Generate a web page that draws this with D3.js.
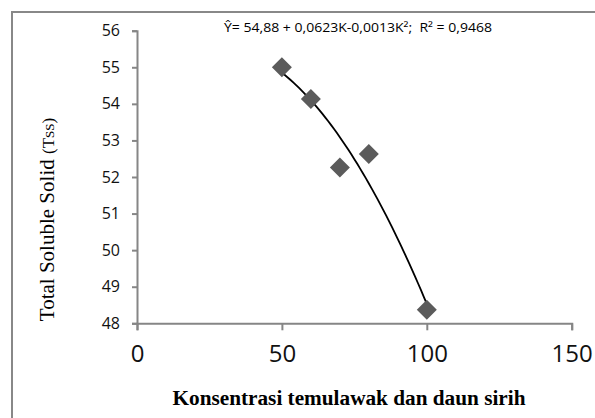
<!DOCTYPE html>
<html><head><meta charset="utf-8">
<script src="https://cdn.jsdelivr.net/npm/d3@7"></script>
<style>body{margin:0;background:#fff}svg{display:block}</style>
</head><body>
<script>
const konsentrasi = [50, 60, 70, 80, 100];
const tss = [55.0, 54.13, 52.26, 52.63, 48.37];
const xTicks = [0, 50, 100, 150];
const yTicks = [48, 49, 50, 51, 52, 53, 54, 55, 56];
const equationText = "Ŷ= 54,88 + 0,0623K-0,0013K²;  R² = 0,9468";
const xTitle = "Konsentrasi temulawak dan daun sirih";

const W = 595, H = 418;
const svg = d3.select("body").append("svg").attr("width", W).attr("height", H);

// outer frame
svg.append("rect").attr("x", 12).attr("y", 12).attr("width", 620).attr("height", 440)
  .attr("fill", "none").attr("stroke", "#888").attr("stroke-width", 2);

const x = d3.scaleLinear().domain([0, 150]).range([137, 571.7]);
const y = d3.scaleLinear().domain([48, 56]).range([323.3, 30.7]);

const axisColor = "#868686";
// y axis
const gy = svg.append("g").attr("transform", `translate(${x(0)},0)`)
  .call(d3.axisLeft(y).tickValues(yTicks).tickSize(5).tickPadding(12).tickFormat(d3.format("d")));
gy.select(".domain").attr("stroke", axisColor).attr("stroke-width", 2);
gy.selectAll(".tick line").attr("stroke", axisColor).attr("stroke-width", 2);
gy.selectAll(".tick text").attr("font-family", "'Open Sans', sans-serif").attr("font-size", 16).attr("fill", "#111");

// x axis
const gx = svg.append("g").attr("transform", `translate(0,${y(48)})`)
  .call(d3.axisBottom(x).tickValues(xTicks).tickSize(7).tickPadding(15).tickFormat(d3.format("d")));
gx.select(".domain").attr("stroke", axisColor).attr("stroke-width", 2);
gx.selectAll(".tick line").attr("stroke", axisColor).attr("stroke-width", 2);
gx.selectAll(".tick text").attr("font-family", "'Open Sans', sans-serif").attr("font-size", 24).attr("fill", "#111");

// quadratic least squares trendline
function polyfit2(xs, ys) {
  const n = xs.length;
  let s = [0,0,0,0,0], t = [0,0,0];
  for (let i = 0; i < n; i++) {
    for (let k = 0; k < 5; k++) s[k] += Math.pow(xs[i], k);
    for (let k = 0; k < 3; k++) t[k] += ys[i] * Math.pow(xs[i], k);
  }
  const A = [[s[0], s[1], s[2], t[0]], [s[1], s[2], s[3], t[1]], [s[2], s[3], s[4], t[2]]];
  for (let i = 0; i < 3; i++) {
    for (let j = i + 1; j < 3; j++) {
      const f = A[j][i] / A[i][i];
      for (let k = i; k < 4; k++) A[j][k] -= f * A[i][k];
    }
  }
  const c = [0,0,0];
  for (let i = 2; i >= 0; i--) {
    let v = A[i][3];
    for (let k = i + 1; k < 3; k++) v -= A[i][k] * c[k];
    c[i] = v / A[i][i];
  }
  return c;
}
const coef = polyfit2(konsentrasi, tss);
const xs = d3.range(50, 100.01, 1);
const line = d3.line().x(d => x(d)).y(d => y(coef[0] + coef[1] * d + coef[2] * d * d));
svg.append("path").datum(xs).attr("d", line).attr("fill", "none").attr("stroke", "#000").attr("stroke-width", 1.8);

// diamonds
svg.selectAll("path.pt").data(konsentrasi).enter().append("path").attr("class", "pt")
  .attr("d", (d, i) => {
    const cx = x(d), cy = y(tss[i]), r = 10;
    return `M${cx},${cy - r}L${cx + r},${cy}L${cx},${cy + r}L${cx - r},${cy}Z`;
  })
  .attr("fill", "#5b5b5b");

// equation
svg.append("text").attr("x", 224).attr("y", 32).attr("font-family", "'Open Sans', sans-serif")
  .attr("font-size", 13).attr("fill", "#000").attr("xml:space", "preserve")
  .attr("textLength", 268).attr("lengthAdjust", "spacingAndGlyphs").text(equationText);

// x title
svg.append("text").attr("x", 349).attr("y", 405).attr("text-anchor", "middle")
  .attr("font-family", "'Liberation Serif', 'Times New Roman', serif").attr("font-weight", "bold")
  .attr("font-size", 20).attr("fill", "#000")
  .attr("textLength", 353).attr("lengthAdjust", "spacingAndGlyphs").text(xTitle);

// y title
const yt = svg.append("text").attr("transform", "translate(53.5,219.5) rotate(-90)").attr("text-anchor", "middle")
  .attr("font-family", "'Liberation Serif', 'Times New Roman', serif").attr("font-size", 21).attr("fill", "#000");
yt.append("tspan").text("Total Soluble Solid ");
yt.append("tspan").attr("font-size", 17).text("(T");
yt.append("tspan").attr("font-size", 13).text("SS");
yt.append("tspan").attr("font-size", 17).text(")");
</script>
</body></html>
